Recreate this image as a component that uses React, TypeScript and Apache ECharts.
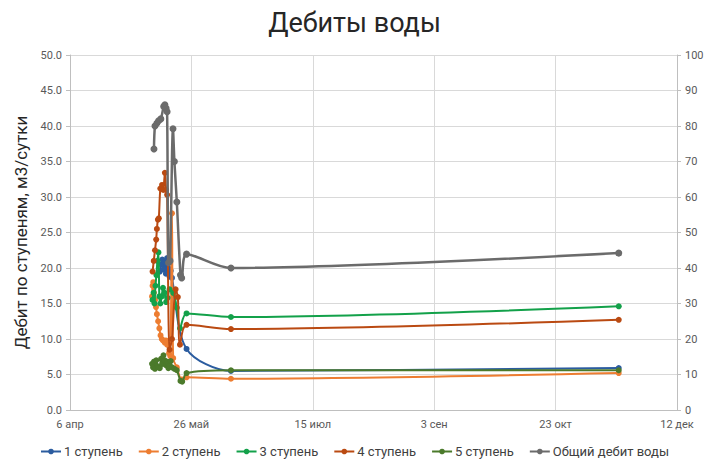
import React, { useEffect, useRef } from 'react';
import * as echarts from 'echarts';

const YEAR = 2021;
const START = `${YEAR}-04-06T00:00:00Z`;
const X_MIN_DAYS = 0;
const X_MAX_DAYS = 250;
const X_STEP_DAYS = 50;
const MONTHS_RU = ['янв', 'фев', 'мар', 'апр', 'май', 'июн', 'июл', 'авг', 'сен', 'окт', 'ноя', 'дек'];

const seriesNames = ['1 ступень', '2 ступень', '3 ступень', '4 ступень', '5 ступень', 'Общий дебит воды'];
const seriesColors = ['#2B5C9F', '#ED7D31', '#13A14A', '#BA4A12', '#4B7A2B', '#6B6B6B'];

// 1 ступень
const stage1Times = ['05-13 00:00', '05-13 12:00', '05-14 00:00', '05-14 12:00', '05-15 00:00', '05-15 12:00', '05-16 00:00', '05-16 12:00', '05-17 00:00', '05-17 12:00', '05-18 00:00', '05-24 00:00', '06-11 07:00', '11-18 00:00'];
const stage1Values = [19.5, 20.5, 21.2, 19.8, 20.8, 19.2, 21.4, 20.0, 18.8, 19.6, 18.6, 8.6, 5.5, 5.9];

// 2 ступень
const stage2Times = ['05-09 19:00', '05-10 00:00', '05-10 07:00', '05-10 14:00', '05-11 00:00', '05-11 10:00', '05-11 19:00', '05-12 07:00', '05-12 19:00', '05-13 07:00', '05-13 19:00', '05-14 07:00', '05-15 00:00', '05-15 12:00', '05-16 00:00', '05-16 19:00', '05-17 07:00', '05-18 00:00', '05-18 12:00', '05-20 00:00', '05-22 00:00', '05-24 00:00', '06-11 07:00', '11-18 00:00'];
const stage2Values = [16.0, 17.5, 18.0, 16.5, 15.5, 14.5, 13.5, 12.5, 11.5, 10.5, 10.0, 9.8, 9.5, 9.8, 9.2, 8.0, 7.6, 27.7, 7.3, 6.0, 4.3, 4.6, 4.4, 5.2];

// 3 ступень
const stage3Times = ['05-10 00:00', '05-10 10:00', '05-10 19:00', '05-11 05:00', '05-11 14:00', '05-12 00:00', '05-12 10:00', '05-12 19:00', '05-13 05:00', '05-13 19:00', '05-14 07:00', '05-15 00:00', '05-15 14:00', '05-16 05:00', '05-17 00:00', '05-18 12:00', '05-20 00:00', '05-21 07:00', '05-24 00:00', '06-11 07:00', '11-18 00:00'];
const stage3Values = [15.5, 16.5, 15.0, 17.5, 19.0, 21.0, 22.2, 16.0, 15.0, 16.0, 17.2, 16.5, 15.2, 15.8, 17.0, 16.5, 14.4, 11.5, 13.6, 13.1, 14.6];

// 4 ступень
const stage4Times = ['05-10 00:00', '05-10 12:00', '05-11 00:00', '05-11 12:00', '05-11 19:00', '05-12 05:00', '05-12 14:00', '05-13 05:00', '05-13 22:00', '05-14 10:00', '05-15 02:00', '05-15 14:00', '05-16 00:00', '05-17 00:00', '05-18 00:00', '05-19 12:00', '05-20 10:00', '05-21 07:00', '05-24 00:00', '06-11 07:00', '11-18 00:00'];
const stage4Values = [19.5, 21.0, 22.5, 24.0, 25.5, 26.8, 27.0, 31.2, 31.7, 31.0, 33.4, 31.0, 30.3, 8.5, 10.0, 17.0, 15.9, 9.2, 12.0, 11.4, 12.7];

// 5 ступень
const stage5Times = ['05-09 19:00', '05-10 05:00', '05-10 14:00', '05-11 00:00', '05-11 12:00', '05-12 00:00', '05-12 12:00', '05-13 00:00', '05-13 12:00', '05-14 00:00', '05-14 12:00', '05-15 00:00', '05-15 12:00', '05-16 00:00', '05-16 12:00', '05-17 00:00', '05-17 12:00', '05-18 00:00', '05-19 00:00', '05-20 00:00', '05-21 12:00', '05-22 05:00', '05-24 00:00', '06-11 07:00', '11-18 00:00'];
const stage5Values = [6.5, 6.0, 6.8, 5.8, 7.0, 6.2, 6.0, 5.9, 7.2, 6.5, 7.7, 7.0, 6.3, 6.8, 5.9, 6.2, 6.9, 6.0, 5.8, 5.6, 4.1, 4.0, 5.2, 5.6, 5.6];

// Общий дебит воды (правая ось)
const totalTimes = ['05-10 14:00', '05-11 00:00', '05-11 19:00', '05-12 12:00', '05-13 10:00', '05-14 14:00', '05-15 02:00', '05-15 14:00', '05-16 00:00', '05-16 14:00', '05-17 05:00', '05-18 10:00', '05-19 00:00', '05-20 00:00', '05-21 12:00', '05-22 00:00', '05-24 00:00', '06-11 07:00', '11-18 00:00'];
const totalValues = [73.5, 80.0, 80.8, 81.5, 82.0, 85.5, 86.0, 85.0, 84.0, 41.5, 42.0, 79.2, 70.0, 58.6, 38.0, 37.2, 43.9, 40.0, 44.2];

const DAY_MS = 86400000;
const startMs = Date.parse(START);
const toDays = (s: string) => (Date.parse(`${YEAR}-${s.replace(' ', 'T')}:00Z`) - startMs) / DAY_MS;
const pairs = (times: string[], values: number[]) => times.map((t, i) => [toDays(t), values[i]]);

const allTimes = [stage1Times, stage2Times, stage3Times, stage4Times, stage5Times, totalTimes];
const allValues = [stage1Values, stage2Values, stage3Values, stage4Values, stage5Values, totalValues];

const FONT = 'Roboto, "Noto Sans", sans-serif';

export default function App() {
  const ref = useRef<HTMLDivElement>(null);
  useEffect(() => {
    if (!ref.current) return;
    const chart = echarts.init(ref.current, undefined, { renderer: 'svg' });
    const series = seriesNames.map((name, i) => ({
      name,
      type: 'line',
      yAxisIndex: i === 5 ? 1 : 0,
      data: pairs(allTimes[i], allValues[i]),
      smooth: 0.3,
      symbol: 'circle',
      symbolSize: i === 5 ? 7 : 6,
      showSymbol: true,
      lineStyle: { width: i === 5 ? 2.5 : 2, color: seriesColors[i] },
      itemStyle: { color: seriesColors[i] },
      z: 2 + i,
    }));
    chart.setOption({
      animation: false,
      textStyle: { fontFamily: FONT },
      title: {
        text: 'Дебиты воды',
        left: 'center',
        top: 4,
        textStyle: { fontFamily: FONT, fontSize: 27, fontWeight: 'normal', color: '#262626' },
      },
      legend: {
        bottom: 6,
        left: 'center',
        itemWidth: 20,
        itemHeight: 7,
        itemGap: 15,
        textStyle: { fontFamily: FONT, fontSize: 13, color: '#404040', padding: [0, 0, 0, -2] },
        data: seriesNames,
      },
      grid: { left: 70, right: 32, top: 55, bottom: 59 },
      xAxis: {
        type: 'value',
        min: X_MIN_DAYS,
        max: X_MAX_DAYS,
        interval: X_STEP_DAYS,
        axisLine: { show: true, lineStyle: { color: '#BFBFBF' } },
        axisTick: { show: false },
        splitLine: { show: true, lineStyle: { color: '#D9D9D9' } },
        axisLabel: {
          color: '#595959',
          fontSize: 11,
          margin: 9,
          formatter: (v: number) => {
            const d = new Date(startMs + v * DAY_MS);
            return `${d.getUTCDate()} ${MONTHS_RU[d.getUTCMonth()]}`;
          },
        },
      },
      yAxis: [
        {
          type: 'value',
          min: 0,
          max: 50,
          interval: 5,
          name: 'Дебит по ступеням, м3/сутки',
          nameLocation: 'middle',
          nameGap: 40,
          nameTextStyle: { fontFamily: FONT, fontSize: 17, color: '#262626' },
          axisLine: { show: true, lineStyle: { color: '#BFBFBF' } },
          axisTick: { show: true, length: 4, lineStyle: { color: '#BFBFBF' } },
          splitLine: { show: true, lineStyle: { color: '#D9D9D9' } },
          axisLabel: { color: '#595959', fontSize: 11, margin: 8, formatter: (v: number) => v.toFixed(1) },
        },
        {
          type: 'value',
          min: 0,
          max: 100,
          interval: 10,
          position: 'right',
          axisLine: { show: true, lineStyle: { color: '#BFBFBF' } },
          axisTick: { show: true, length: 4, lineStyle: { color: '#BFBFBF' } },
          splitLine: { show: false },
          axisLabel: { color: '#595959', fontSize: 11, margin: 8 },
        },
      ],
      series,
    });
    return () => chart.dispose();
  }, []);
  return <div ref={ref} style={{ position: 'fixed', left: 0, top: 0, width: 709, height: 469, background: '#fff' }} />;
}
